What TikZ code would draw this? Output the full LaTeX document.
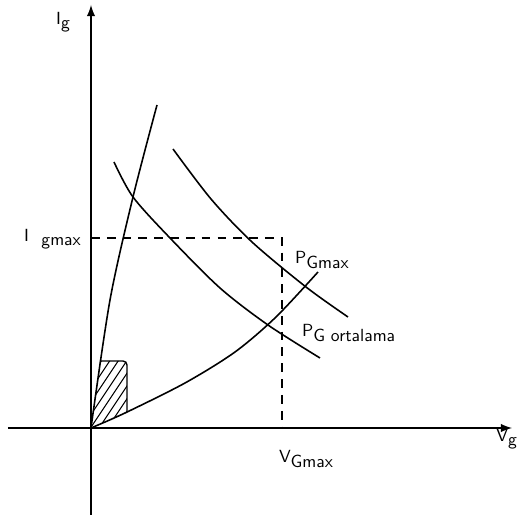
\documentclass[tikz,border=0pt]{standalone}
\usepackage{amsmath,amssymb}
\newcommand{\dn}[1]{\raisebox{-0.55ex}{#1}}

\begin{document}
\begin{tikzpicture}[font=\sffamily,
  axis/.style={line width=1.2pt,-latex},
  kurve/.style={line width=0.9pt},
  guide/.style={line width=0.8pt,dashed,dash pattern=on 5pt off 4pt}]
\useasboundingbox (-1.82,-1.8) rectangle (8.56,8.56);
\draw[axis] (-1.66,0) -- (8.42,0);
\draw[axis] (0,-1.74) -- (0,8.46);
\node (ig) at (-0.56,8.12) {I\dn{g}};
\node[anchor=north east,inner sep=1pt] (vg) at (8.56,0.02) {V\dn{g}};
% dashed limits
\draw[guide] (0,3.8) -- (3.82,3.8) -- (3.82,0);
\node[anchor=east] (igmax) at (-0.08,3.78) {I\hspace{0.25cm}\dn{gmax}};
\node (vgmax) at (4.3,-0.62) {V\dn{Gmax}};
% hatched area
\begin{scope}
\clip (0,0) -- (0.18,1.34) -- (0.64,1.34)
  to[out=0,in=90] (0.72,1.26) -- (0.72,0.32)
  to[out=205,in=22] (0,0);
\foreach \k in {-1.2,-1.03,...,1.0}
  \draw[line width=0.6pt] (\k,0) -- +(1.0,1.5);
\end{scope}
\draw[line width=0.8pt] (0.18,1.34) -- (0.64,1.34) to[out=0,in=90] (0.72,1.26) -- (0.72,0.32);
% curves
\draw[kurve] plot[smooth] coordinates {(0,0) (0.38,2.56) (0.84,4.62) (1.32,6.46)};
\draw[kurve] plot[smooth] coordinates {(0,0) (0.68,0.3) (1.88,0.9) (2.88,1.52) (3.7,2.22) (4.54,3.12)};
\draw[kurve] plot[smooth] coordinates {(0.46,5.32) (0.84,4.62) (1.58,3.8) (2.58,2.8) (3.54,2.06) (4.58,1.4)};
\draw[kurve] plot[smooth] coordinates {(1.64,5.58) (2.4,4.58) (3.22,3.72) (4.3,2.82) (5.14,2.22)};
\node[anchor=west] (pmax) at (3.96,3.36) {P\dn{Gmax}};
\node[anchor=west] (port) at (4.1,1.9) {P\dn{G ortalama}};
\end{tikzpicture}
\end{document}
